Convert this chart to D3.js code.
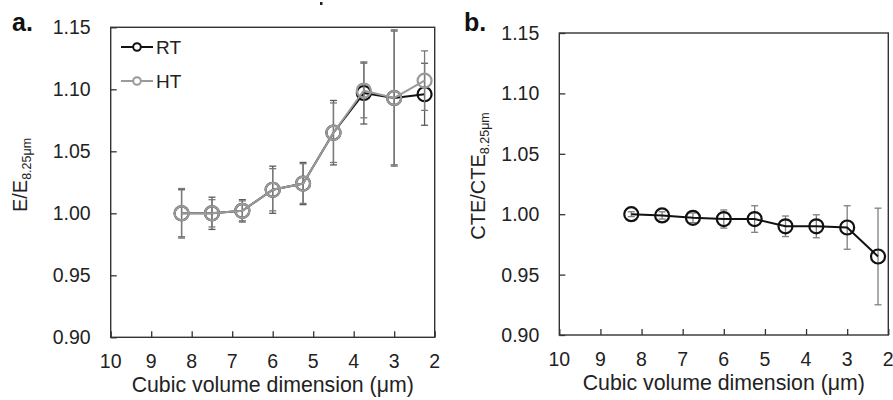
<!DOCTYPE html>
<html>
<head>
<meta charset="utf-8">
<script src="https://cdn.jsdelivr.net/npm/d3@7"></script>
<style>
  html, body { margin: 0; padding: 0; background: #fff; }
  svg { display: block; font-family: "Liberation Sans", Arimo, Arial, sans-serif; }
</style>
</head>
<body>
<svg id="chart" width="893" height="400"></svg>
<script>
// Cubic volume edge length (µm) of each sub-volume
const sizes = [8.25, 7.5, 6.75, 6.0, 5.25, 4.5, 3.75, 3.0, 2.25];

// Panel a: normalised modulus E/E(8.25 µm)
const modulusRT    = [1.000, 1.000, 1.002, 1.019, 1.024, 1.065, 1.097, 1.093, 1.096];
const modulusRTErr = [0.019, 0.013, 0.009, 0.019, 0.017, 0.026, 0.025, 0.054, 0.025];
const modulusHT    = [1.000, 1.000, 1.002, 1.019, 1.024, 1.065, 1.099, 1.093, 1.107];
const modulusHTErr = [0.020, 0.011, 0.008, 0.017, 0.016, 0.024, 0.022, 0.055, 0.024];

// Panel b: normalised thermal expansion CTE/CTE(8.25 µm)
const cteRatio = [1.000, 0.999, 0.997, 0.996, 0.996, 0.990, 0.990, 0.989, 0.965];
const cteErr   = [0.002, 0.003, 0.004, 0.0075, 0.011, 0.0085, 0.0095, 0.018, 0.040];

// Axis ticks
const xTicks = [10, 9, 8, 7, 6, 5, 4, 3, 2];
const yTicks = [0.90, 0.95, 1.00, 1.05, 1.10, 1.15];

const svg = d3.select("#chart");

function drawPanel(cfg) {
  const { left, right, top, bottom } = cfg.box;
  const x = d3.scaleLinear().domain([10, 2]).range([left, right]);
  const y = d3.scaleLinear().domain([0.90, 1.15]).range([bottom, top]);
  const g = svg.append("g");

  // inward ticks
  g.append("g")
    .attr("transform", `translate(0,${bottom})`)
    .call(d3.axisTop(x).tickValues(xTicks).tickSize(6).tickFormat(""))
    .call(a => a.select(".domain").remove())
    .call(a => a.selectAll("line").attr("stroke", "#333").attr("stroke-width", 1.3));
  g.append("g")
    .attr("transform", `translate(${left},0)`)
    .call(d3.axisRight(y).tickValues(yTicks).tickSize(6).tickFormat(""))
    .call(a => a.select(".domain").remove())
    .call(a => a.selectAll("line").attr("stroke", "#333").attr("stroke-width", 1.3));

  // tick labels
  g.selectAll(".xl").data(xTicks).join("text")
    .attr("x", d => x(d)).attr("y", bottom + 31)
    .attr("text-anchor", "middle").attr("font-size", 19.5).attr("fill", "#222")
    .text(d => d);
  g.selectAll(".yl").data(yTicks).join("text")
    .attr("x", left - 20).attr("y", d => y(d))
    .attr("dy", "0.36em")
    .attr("text-anchor", "end").attr("font-size", 19.5).attr("fill", "#222")
    .text(d => d3.format(".2f")(d));

  // frame
  g.append("rect")
    .attr("x", left).attr("y", top)
    .attr("width", right - left).attr("height", bottom - top)
    .attr("fill", "none").attr("stroke", "#333").attr("stroke-width", 1.4);

  // x title
  g.append("text")
    .attr("x", (left + right) / 2).attr("y", bottom + 55)
    .attr("text-anchor", "middle").attr("font-size", 21.3).attr("fill", "#222")
    .text("Cubic volume dimension (μm)");

  // y title with subscript
  const yt = g.append("text")
    .attr("transform", `translate(${cfg.yTitleX},${cfg.yTitleY}) rotate(-90)`)
    .attr("text-anchor", "middle").attr("font-size", 20).attr("fill", "#222");
  yt.append("tspan").text(cfg.yTitle);
  yt.append("tspan").attr("font-size", 12.5).attr("dy", 4).text("8.25μm");

  // panel letter
  g.append("text")
    .attr("x", cfg.letterX).attr("y", 31)
    .attr("font-size", 25).attr("font-weight", "bold").attr("fill", "#111")
    .text(cfg.letter);

  // series
  cfg.series.forEach(s => {
    const pts = sizes.map((v, i) => ({ x: v, y: s.values[i], e: s.errors[i] }));
    const eb = g.append("g").attr("stroke", s.errColor).attr("stroke-width", 1.3);
    pts.forEach(p => {
      eb.append("line").attr("x1", x(p.x)).attr("x2", x(p.x))
        .attr("y1", y(p.y - p.e)).attr("y2", y(p.y + p.e));
      [p.y - p.e, p.y + p.e].forEach(v => {
        eb.append("line").attr("x1", x(p.x) - 3.5).attr("x2", x(p.x) + 3.5)
          .attr("y1", y(v)).attr("y2", y(v));
      });
    });
    g.append("path").datum(pts)
      .attr("fill", "none").attr("stroke", s.color).attr("stroke-width", 2)
      .attr("d", d3.line().x(d => x(d.x)).y(d => y(d.y)));
    g.selectAll(null).data(pts).join("circle")
      .attr("cx", d => x(d.x)).attr("cy", d => y(d.y)).attr("r", 7)
      .attr("fill", "none").attr("stroke", s.color).attr("stroke-width", 2.2);
  });

  return { x, y, g };
}

drawPanel({
  box: { left: 110.7, right: 434.7, top: 27.3, bottom: 337.3 },
  letter: "a.", letterX: 12,
  yTitle: "E/E", yTitleX: 27, yTitleY: 175,
  series: [
    { values: modulusRT, errors: modulusRTErr, color: "#111", errColor: "#5a5a5a" },
    { values: modulusHT, errors: modulusHTErr, color: "#9a9a9a", errColor: "#7a7a7a" }
  ]
});

drawPanel({
  box: { left: 559.3, right: 888.3, top: 33, bottom: 335 },
  letter: "b.", letterX: 464,
  yTitle: "CTE/CTE", yTitleX: 485, yTitleY: 176,
  series: [
    { values: cteRatio, errors: cteErr, color: "#111", errColor: "#7f7f7f" }
  ]
});

// legend for panel a
const legend = [
  { name: "RT", color: "#111" },
  { name: "HT", color: "#9a9a9a" }
];
const lg = svg.append("g");
legend.forEach((d, i) => {
  const cy = 47 + i * 34;
  lg.append("line").attr("x1", 121).attr("x2", 153).attr("y1", cy).attr("y2", cy)
    .attr("stroke", d.color).attr("stroke-width", 2);
  lg.append("circle").attr("cx", 137).attr("cy", cy).attr("r", 3.8)
    .attr("fill", "#fff").attr("stroke", d.color).attr("stroke-width", 2);
  lg.append("text").attr("x", 156).attr("y", cy + 7)
    .attr("font-size", 19).attr("fill", "#222").text(d.name);
});

// small stray mark above panel a
svg.append("rect").attr("x", 320).attr("y", 2).attr("width", 2.5).attr("height", 3).attr("fill", "#222");
</script>
</body>
</html>
